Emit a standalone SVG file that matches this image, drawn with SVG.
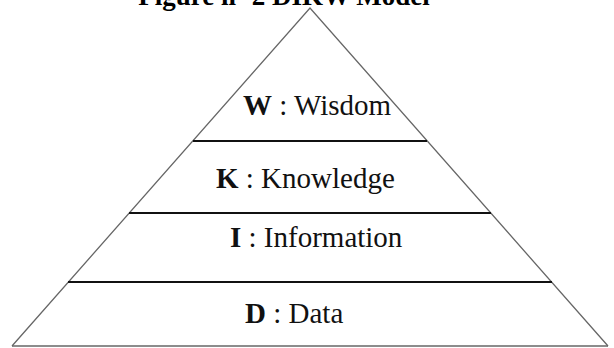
<svg xmlns="http://www.w3.org/2000/svg" width="614" height="348" viewBox="0 0 614 348">
<style>
.edge{stroke:#666;stroke-width:1.3;fill:none}
.band{stroke:#111;stroke-width:2;fill:none}
.base{stroke:#666;stroke-width:1.5;fill:none}
.lbl{font-family:"Liberation Serif","Times New Roman",serif;font-size:29px;fill:#111}
.b{font-weight:bold}
.title{font-family:"Liberation Serif","Times New Roman",serif;font-size:27px;font-weight:bold;fill:#000}
</style>
<rect width="614" height="348" fill="#fff"/>
<text class="title" x="284" y="5" text-anchor="middle">Figure ii -2  DIKW Model</text>
<g id="connectors">
<path class="edge" d="M12 346 L310 8 L608 346"/>
<line class="base" x1="12" y1="346" x2="608" y2="346"/>
<line class="band" x1="193" y1="141" x2="427" y2="141"/>
<line class="band" x1="129" y1="213" x2="491" y2="213"/>
<line class="band" x1="68" y1="282" x2="552" y2="282"/>
</g>
<g id="wisdom"><text class="lbl" x="243" y="115"><tspan class="b">W</tspan> : Wisdom</text></g>
<g id="knowledge"><text class="lbl" x="216" y="188"><tspan class="b">K</tspan> : Knowledge</text></g>
<g id="information"><text class="lbl" x="230" y="247"><tspan class="b">I</tspan> : Information</text></g>
<g id="data"><text class="lbl" x="245" y="323"><tspan class="b">D</tspan> : Data</text></g>
</svg>
